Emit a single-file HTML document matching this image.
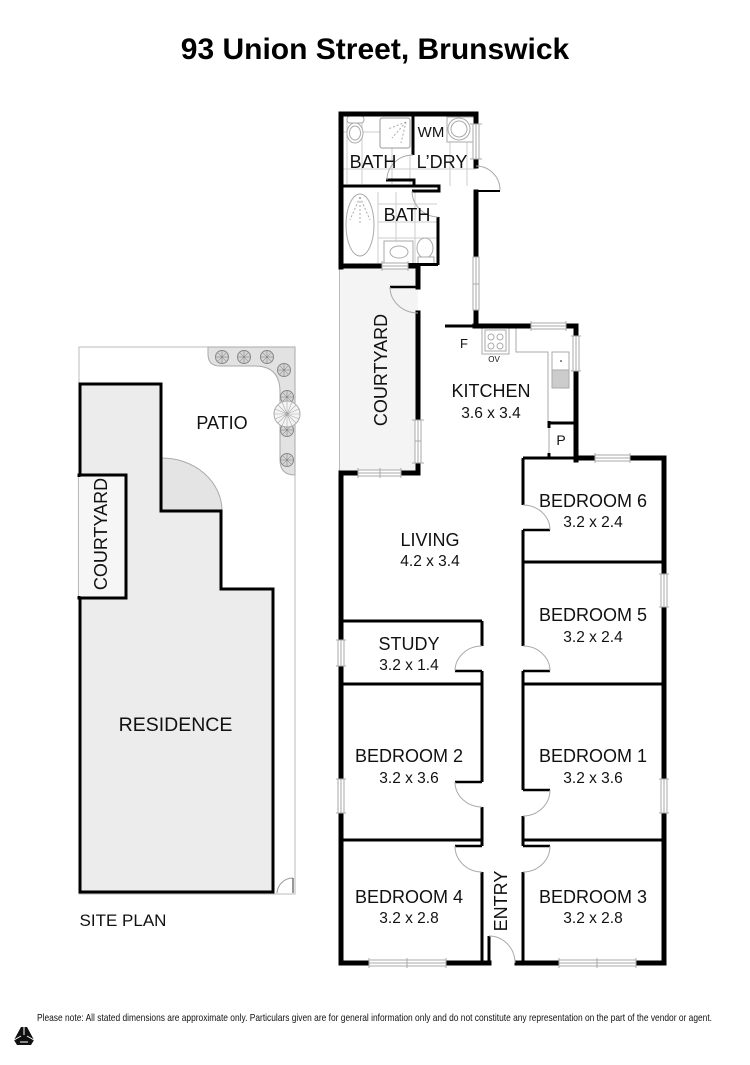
<!DOCTYPE html>
<html><head><meta charset="utf-8"><style>
html,body{margin:0;padding:0;background:#fff;width:750px;height:1065px;overflow:hidden}
svg{display:block}
text{font-family:"Liberation Sans",sans-serif;fill:#111;text-anchor:middle}
.n{font-size:18px}.d{font-size:15.5px}
.w{stroke:#000;stroke-width:5;fill:none;stroke-linecap:square}
.i{stroke:#000;stroke-width:3;fill:none;stroke-linecap:butt}
.t{stroke:#000;stroke-width:2.5;fill:none}
.g{stroke:#aaa;stroke-width:1;fill:none}
.l{stroke:#ccc;stroke-width:1;fill:none}
.win{fill:#fff;stroke:#aaa;stroke-width:1}
</style></head><body>
<svg width="750" height="1065" viewBox="0 0 750 1065" xmlns="http://www.w3.org/2000/svg">
<defs>
<g id="tree"><circle r="6.5" fill="#d4d4d4" stroke="#888" stroke-width="1"/><path d="M0-6V6M-6 0H6M-4-4L4 4M4-4L-4 4" stroke="#777" stroke-width=".5"/></g>
</defs>
<text x="375" y="59" font-size="30" font-weight="bold" style="fill:#000">93 Union Street, Brunswick</text>

<!-- SITE PLAN -->
<rect x="79" y="347" width="216" height="547" fill="#fff" stroke="#bbb"/>
<path d="M208 347V354Q208 366 220 366H255Q280 366 280 392V460Q280 475 295 475V347Z" fill="#e2e2e2" stroke="#aaa"/>
<use href="#tree" x="222" y="357"/><use href="#tree" x="244" y="357"/><use href="#tree" x="267" y="357"/><use href="#tree" x="284" y="370"/><use href="#tree" x="287" y="397"/><use href="#tree" x="287" y="430"/><use href="#tree" x="287" y="460"/>
<circle cx="287" cy="414" r="13" fill="#f4f4f4" stroke="#aaa"/>
<path d="M287 401V427M274 414H300M278 405L296 423M296 405L278 423M282 402L292 426M292 402L282 426M275 409L299 419M299 409L275 419" stroke="#aaa" stroke-width=".6"/>
<path d="M161 458A60 53 0 0 1 222 511H161Z" fill="#e4e4e4" stroke="#aaa"/>
<path d="M80 384H161V511H221V589H273V892H80Z" fill="#ececec" stroke="#000" stroke-width="3"/>
<path d="M79 475H126V598H79Z" fill="#f6f6f6" stroke="#000" stroke-width="3"/>
<path d="M79 477V596" stroke="#f6f6f6" stroke-width="3"/>
<path d="M78.500 477V596" stroke="#bbb" stroke-width="1"/>
<path d="M277 893A16 16 0 0 1 293 878" fill="none" stroke="#999"/>
<path d="M293 878V893" stroke="#333"/>
<text class="n" x="222" y="429">PATIO</text>
<text x="175.500" y="731" style="font-size:19.500px">RESIDENCE</text>
<text class="n" transform="translate(107,534) rotate(-90)">COURTYARD</text>
<text x="123" y="926" style="font-size:17px">SITE PLAN</text>

<!-- courtyard fill -->
<rect x="339" y="267" width="79" height="206" fill="#f4f4f4"/>
<path d="M339.500 268V472" stroke="#bbb"/>

<!-- tiles -->
<path class="l" d="M343 132H380M343 169H476M347 118V184M362 118V184M392 148V184M410 155V184M450 142V186M467 142V186M378 192V264M396 192V264M415 192V264M378 204H437M378 222H437M378 238H437"/>

<!-- fixtures -->
<g class="g">
<rect x="380" y="118" width="30" height="30" rx="2" fill="#fff" stroke="#999"/>
<path d="M406 122L388 129M406 122L392 138M406 122L401 143" stroke="#aaa" stroke-dasharray="2 2"/>
<rect x="447" y="117" width="29" height="25" fill="#fff"/>
<circle cx="459" cy="129" r="11" fill="#fff"/><circle cx="459" cy="129" r="8"/>
<ellipse cx="355" cy="133" rx="8" ry="10" fill="#fff"/><ellipse cx="355" cy="133" rx="5.500" ry="7"/><rect x="347" y="116" width="17" height="7" rx="3" fill="#fff"/>
<ellipse cx="360" cy="225" rx="14" ry="31" fill="#fff"/>
<path d="M360 197L350 220M360 197V225M360 197L370 220" stroke="#aaa" stroke-dasharray="2 2"/>
<rect x="384" y="241" width="29" height="24" fill="#fff"/><ellipse cx="399" cy="252" rx="9" ry="6"/>
<ellipse cx="425" cy="248" rx="8" ry="10" fill="#fff"/><rect x="418" y="257" width="16" height="7" fill="#fff"/>
<rect x="482" y="327" width="27" height="27"/><rect x="485" y="330" width="21" height="21"/>
<circle cx="491" cy="337" r="3"/><circle cx="500" cy="337" r="3"/><circle cx="491" cy="346" r="3"/><circle cx="500" cy="346" r="3"/>
<path d="M516 327V352H548V421"/>
<rect x="552" y="352" width="17" height="18" fill="#fff"/>
<rect x="552" y="370" width="17" height="18" fill="#ccc"/>
<path d="M549 428V453"/>
</g>
<circle cx="561" cy="361" r=".8" fill="#000"/>

<!-- outer walls -->
<path class="w" d="M341 114H476V124M476 159V166M476 192V257M476 310V326M341 114V267"/>
<path class="w" d="M341 266H380M410 266H418V287M418 313V420M418 463V473H401M358 473H341V963"/>
<path class="w" d="M475 326H531M566 326H576V335M576 371V460"/>
<path class="i" d="M445 326H475"/>
<path class="w" d="M576 458H595M630 458H664V574M664 607V779M664 813V963H636M559 963H517"/>
<path class="w" d="M341 963H369M446 963H489"/>

<!-- inner walls -->
<path class="i" d="M413 114V155M341 186H439V191H412M386 180H414V186M438 217V265M408 264.500H438"/>
<path class="i" d="M523 458H576M523 458V505M523 530V646M523 671V790M523 816V846M523 872V963"/>
<path class="i" d="M489 936V963"/>
<path class="i" d="M482 621V646M482 671V782M482 807V846M482 872V963"/>
<path class="i" d="M341 621H482M341 684H482M341 840H482M523 562H664M523 684H664M523 840H664"/>
<path class="i" d="M549 421V428M549 423H576M549 453V458"/>
<path class="t" d="M455 671H482M455 782H482M455 846H482M523 530H550M523 671H550M523 790H550M523 846H550M390 287H418M489 936.500V937"/>
<path d="M476 191H500" stroke="#000" stroke-width="2"/>

<!-- door arcs -->
<g class="g">
<path d="M482 646A27 25 0 0 0 455 671"/><path d="M455 782A27 25 0 0 0 482 807"/><path d="M455 846A27 26 0 0 0 482 872"/>
<path d="M523 505A27 25 0 0 1 550 530"/><path d="M523 646A27 25 0 0 1 550 671"/><path d="M550 790A27 26 0 0 1 523 816"/><path d="M550 846A27 26 0 0 1 523 872"/>
<path d="M489 936A26 27 0 0 1 515 963"/>
<path d="M413 155A26 25 0 0 0 387 180"/><path d="M412 191A27 26 0 0 0 438 217"/>
<path d="M476 166A24 24 0 0 1 500 190"/><path d="M390 287A28 26 0 0 0 418 313"/>
</g>

<!-- windows -->
<g class="win">
<rect x="473" y="124" width="6" height="35"/><path d="M476 124V159M470 124H482M470 159H482"/>
<rect x="473" y="257" width="6" height="53"/><path d="M476 257V310M473 284H479"/>
<rect x="415" y="420" width="6" height="43"/><path d="M418 420V463M412 420H424M412 463H424M415 441H421"/>
<rect x="358" y="470" width="43" height="6"/><path d="M358 473H401M380 468V478M358 468V478M401 468V478"/>
<rect x="531" y="323" width="35" height="6"/><path d="M531 326H566M531 321V331M566 321V331"/>
<rect x="573" y="336" width="6" height="35"/><path d="M576 336V371M571 336H581M571 371H581"/>
<rect x="595" y="455" width="35" height="6"/><path d="M595 458H630M595 453V463M630 453V463"/>
<rect x="661" y="574" width="6" height="33"/><path d="M664 574V607M659 574H669M659 607H669"/>
<rect x="661" y="779" width="6" height="34"/><path d="M664 779V813M659 779H669M659 813H669"/>
<rect x="338" y="640" width="6" height="26"/><path d="M341 640V666M336 640H346M336 666H346"/>
<rect x="338" y="779" width="6" height="34"/><path d="M341 779V813M336 779H346M336 813H346"/>
<rect x="369" y="960" width="77" height="6"/><path d="M369 963H446M407 958V968M369 958V968M446 958V968"/>
<rect x="559" y="960" width="77" height="6"/><path d="M559 963H636M597 958V968M559 958V968M636 958V968"/>
<rect x="382" y="263" width="26" height="6"/><path d="M382 266H408M382 261V271M408 261V271"/>
</g>

<!-- labels -->
<text x="431" y="137" style="font-size:15px">WM</text>
<text class="n" x="373" y="168">BATH</text>
<text class="n" x="442" y="168">L’DRY</text>
<text class="n" x="407" y="221">BATH</text>
<text class="n" transform="translate(387,370) rotate(-90)">COURTYARD</text>
<text x="464" y="348" style="font-size:13px">F</text>
<text x="494" y="362" style="font-size:8px">OV</text>
<text class="n" x="491" y="397">KITCHEN</text><text class="d" x="491" y="418">3.6 x 3.4</text>
<text x="561" y="445" style="font-size:14px">P</text>
<text class="n" x="593" y="507">BEDROOM 6</text><text class="d" x="593" y="527">3.2 x 2.4</text>
<text class="n" x="430" y="546">LIVING</text><text class="d" x="430" y="566">4.2 x 3.4</text>
<text class="n" x="593" y="621">BEDROOM 5</text><text class="d" x="593" y="642">3.2 x 2.4</text>
<text class="n" x="409" y="650">STUDY</text><text class="d" x="409" y="670">3.2 x 1.4</text>
<text class="n" x="409" y="762">BEDROOM 2</text><text class="d" x="409" y="783">3.2 x 3.6</text>
<text class="n" x="593" y="762">BEDROOM 1</text><text class="d" x="593" y="783">3.2 x 3.6</text>
<text class="n" x="409" y="903">BEDROOM 4</text><text class="d" x="409" y="923">3.2 x 2.8</text>
<text class="n" x="593" y="903">BEDROOM 3</text><text class="d" x="593" y="923">3.2 x 2.8</text>
<text class="n" transform="translate(507,901) rotate(-90)">ENTRY</text>

<!-- footer -->
<text x="37" y="1021" font-size="10.500" textLength="675" lengthAdjust="spacingAndGlyphs" style="text-anchor:start">Please note: All stated dimensions are approximate only. Particulars given are for general information only and do not constitute any representation on the part of the vendor or agent.</text>
<path d="M21 1027H27L34 1040L31 1045H17L14 1040Z" fill="#111"/>
<path d="M24 1027V1035M14 1040L21 1036M34 1040L27 1036M20 1042H28" stroke="#fff" stroke-width="1"/>
</svg>
</body></html>
